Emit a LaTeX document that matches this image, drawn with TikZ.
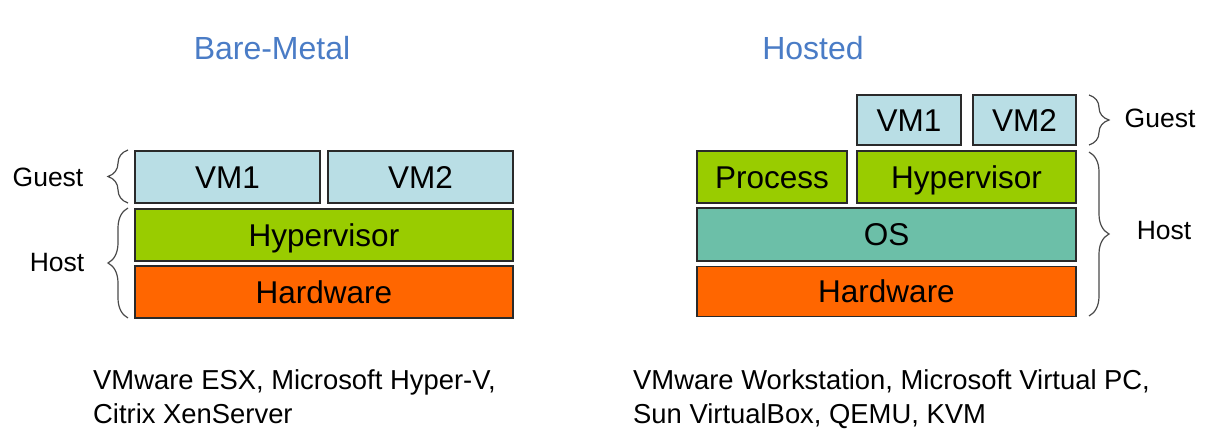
\documentclass[tikz,border=0pt]{standalone}
\usepackage{fontspec}
\setmainfont{Liberation Sans}
\usetikzlibrary{decorations.pathreplacing}
\definecolor{vmblue}{HTML}{B9DEE5}
\definecolor{hvgreen}{HTML}{99CC00}
\definecolor{hworange}{HTML}{FF6600}
\definecolor{osteal}{HTML}{6CBFA8}
\definecolor{titleblue}{HTML}{4A7CC6}
\definecolor{edge}{HTML}{2A2A2A}
\definecolor{bracegray}{HTML}{4A4A4A}
\begin{document}
\begin{tikzpicture}[x=1pt,y=-1pt,
  layer/.style={draw=edge,line width=1.4pt,inner sep=0pt,outer sep=0pt,font=\fontsize{31.5}{31.5}\selectfont,text height=22.5pt,text depth=0pt},
  title/.style={text=titleblue,font=\fontsize{32}{32}\selectfont},
  side/.style={font=\fontsize{26.5}{26.5}\selectfont},
  note/.style={font=\fontsize{27.4}{27.4}\selectfont,anchor=base west,inner sep=0pt},
  bracestyle/.style={draw=bracegray,line width=1.2pt,decorate,decoration={brace,amplitude=20pt,aspect=0.5}}]
\useasboundingbox (0,0) rectangle (1212,446);
\fill[white] (0,0) rectangle (1212,446);
% ---- Bare-Metal ----
\node[title] (t1) at (272,48) {Bare-Metal};
\node[layer,fill=vmblue,minimum width=185pt,minimum height=52pt] (bvm1) at (227.5,177) {VM1};
\node[layer,fill=vmblue,minimum width=185pt,minimum height=52pt] (bvm2) at (420.5,177) {VM2};
\node[layer,fill=hvgreen,minimum width=378pt,minimum height=52pt] (bhv) at (324,235) {Hypervisor};
\node[layer,fill=hworange,minimum width=378pt,minimum height=52pt] (bhw) at (324,292) {Hardware};
\coordinate (bg1) at (128,150);
\coordinate (bg2) at (128,203);
\coordinate (bh1) at (128,208);
\coordinate (bh2) at (128,318);
\draw[bracestyle] (bg2) -- (bg1);
\draw[bracestyle] (bh2) -- (bh1);
\node[side] (bguest) at (48,177) {Guest};
\node[side] (bhost) at (57,263) {Host};
\node[note] (bn1) at (93,389) {VMware ESX, Microsoft Hyper-V,};
\node[note] (bn2) at (93,423) {Citrix XenServer};
% ---- Hosted ----
\node[title] (t2) at (813,48) {Hosted};
\node[layer,fill=vmblue,minimum width=104pt,minimum height=50pt] (hvm1) at (909,120) {VM1};
\node[layer,fill=vmblue,minimum width=103pt,minimum height=50pt] (hvm2) at (1024.5,120) {VM2};
\node[layer,fill=hvgreen,minimum width=150pt,minimum height=52pt] (hproc) at (772,177) {Process};
\node[layer,fill=hvgreen,minimum width=219pt,minimum height=52pt] (hhv) at (966.5,177) {Hypervisor};
\node[layer,fill=osteal,minimum width=379pt,minimum height=53pt] (hos) at (886.5,234.5) {OS};
\node[layer,fill=hworange,minimum width=379pt,minimum height=50pt] (hhw) at (886.5,291.5) {Hardware};
\coordinate (hg1) at (1089,95);
\coordinate (hg2) at (1089,145);
\coordinate (hh1) at (1089,152);
\coordinate (hh2) at (1089,316);
\draw[bracestyle] (hg1) -- (hg2);
\draw[bracestyle] (hh1) -- (hh2);
\node[side] (hguest) at (1160,118) {Guest};
\node[side] (hhost) at (1164,231) {Host};
\node[note] (hn1) at (633,389) {VMware Workstation, Microsoft Virtual PC,};
\node[note] (hn2) at (633,423) {Sun VirtualBox, QEMU, KVM};
\end{tikzpicture}
\end{document}
